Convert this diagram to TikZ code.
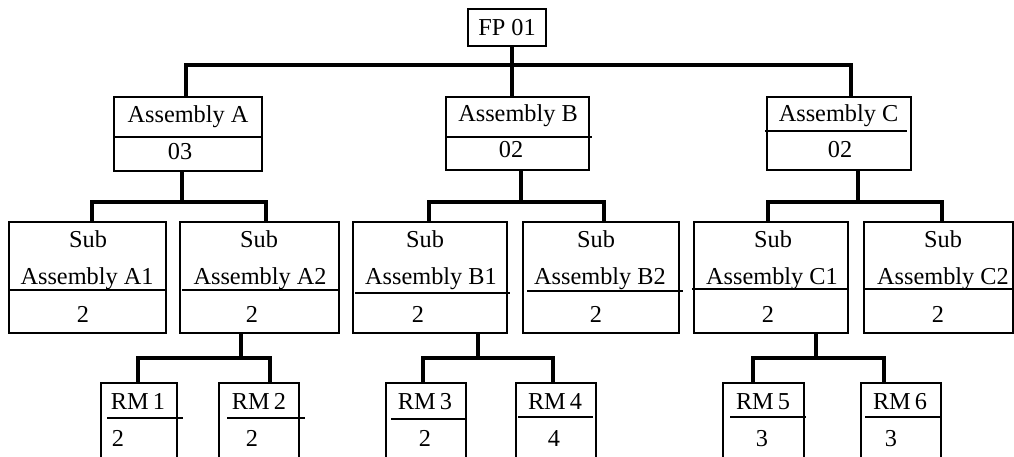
\documentclass[tikz,border=0pt]{standalone}
\usepackage{fontspec}
\setmainfont{Liberation Serif}
\usetikzlibrary{calc}

\begin{document}
\begin{tikzpicture}[
  x=1pt, y=-1pt,
  font=\fontsize{24.3}{29}\selectfont,
  box/.style={draw, line width=1.1pt, inner sep=0pt, outer sep=0pt},
  conn/.style={line width=3.2pt},
  divider/.style={line width=2.9pt},
  lbl/.style={inner sep=0pt, anchor=base},
]
  \useasboundingbox (0,0) rectangle (1014,457);
  \clip (0,0) rectangle (1014,457);

  % final product and assemblies
  \node[box, minimum width=78pt, minimum height=37pt] (fp) at (507,27.5) {FP 01};
  \node[box, minimum width=148pt, minimum height=74pt] (asmA) at (188,134) {};
  \node[box, minimum width=143pt, minimum height=73pt] (asmB) at (517.5,133.5) {};
  \node[box, minimum width=144pt, minimum height=73pt] (asmC) at (839,133.5) {};
  \node[lbl] (asmA-t) at (188,123) {Assembly A};
  \node[lbl] (asmA-v) at (180,160) {03};
  \node[lbl] (asmB-t) at (518,122) {Assembly B};
  \node[lbl] (asmB-v) at (511,158) {02};
  \node[lbl] (asmC-t) at (838.5,122) {Assembly C};
  \node[lbl] (asmC-v) at (840,158) {02};

  % sub assemblies
  \foreach \nm/\cx/\w in {A1/87.5/157, A2/259.5/159, B1/430/154, B2/601/156, C1/771/154, C2/938.5/149}
    \node[box, minimum width=\w pt, minimum height=111pt] (sub\nm) at (\cx,277.5) {};
  \foreach \nm/\xs/\xa/\xv in {A1/88/87/83, A2/259/260/252, B1/425/431/418, B2/596/600/596, C1/773/772/768, C2/943/943/938} {
    \node[lbl] (sub\nm-s) at (\xs,247) {Sub};
    \node[lbl] (sub\nm-t) at (\xa,284) {Assembly \nm};
    \node[lbl] (sub\nm-v) at (\xv,322) {2};
  }

  % raw materials (cut off at the bottom)
  \foreach \nm/\cx/\w in {1/139/76, 2/259/80, 3/426/80, 4/556/80, 5/763.5/81, 6/901/80}
    \node[box, minimum width=\w pt, minimum height=87pt] (rm\nm) at (\cx,426.5) {};
  \foreach \nm/\xt/\xv/\v in {1/138/118/2, 2/259/252/2, 3/425/425/2, 4/555/554/4, 5/763/762/3, 6/900/891/3} {
    \node[lbl] (rm\nm-t) at (\xt,409) {RM\,\nm};
    \node[lbl] (rm\nm-v) at (\xv,446) {\v};
  }

  % dividers
  \foreach \xa/\xb/\yy in {113/262/137, 446/592/137, 765/907/131,
      9/166/290, 182/339/290, 355/510/293, 527/683/291, 692/848/289, 864/1014/289,
      107/183/418, 227/305/418, 391/467/419, 518/593/417, 730/806/417, 865/941/417}
    \draw[divider] (\xa,\yy) -- (\xb,\yy);

  % connectors
  \coordinate (jTop) at (512,65);
  \coordinate (jA) at (182,202);
  \coordinate (jB) at (521,202);
  \coordinate (jC) at (858,202);
  \coordinate (jRA) at (241,358);
  \coordinate (jRB) at (478,358);
  \coordinate (jRC) at (816,358);
  \draw[conn] (fp.south -| jTop) -- (asmB.north -| jTop);
  \draw[conn] (asmA.north -| 186,0) |- (jTop) -| (asmC.north -| 851,0);
  \draw[conn] (asmA.south -| jA) -- (jA);
  \draw[conn] (subA1.north -| 92,0) |- (jA) -| (subA2.north -| 266,0);
  \draw[conn] (asmB.south -| jB) -- (jB);
  \draw[conn] (subB1.north -| 429,0) |- (jB) -| (subB2.north -| 604,0);
  \draw[conn] (asmC.south -| jC) -- (jC);
  \draw[conn] (subC1.north -| 768,0) |- (jC) -| (subC2.north -| 942,0);
  \draw[conn] (subA2.south -| jRA) -- (jRA);
  \draw[conn] (rm1.north -| 138,0) |- (jRA) -| (rm2.north -| 270,0);
  \draw[conn] (subB1.south -| jRB) -- (jRB);
  \draw[conn] (rm3.north -| 423,0) |- (jRB) -| (rm4.north -| 553,0);
  \draw[conn] (subC1.south -| jRC) -- (jRC);
  \draw[conn] (rm5.north -| 753,0) |- (jRC) -| (rm6.north -| 884,0);
\end{tikzpicture}
\end{document}
